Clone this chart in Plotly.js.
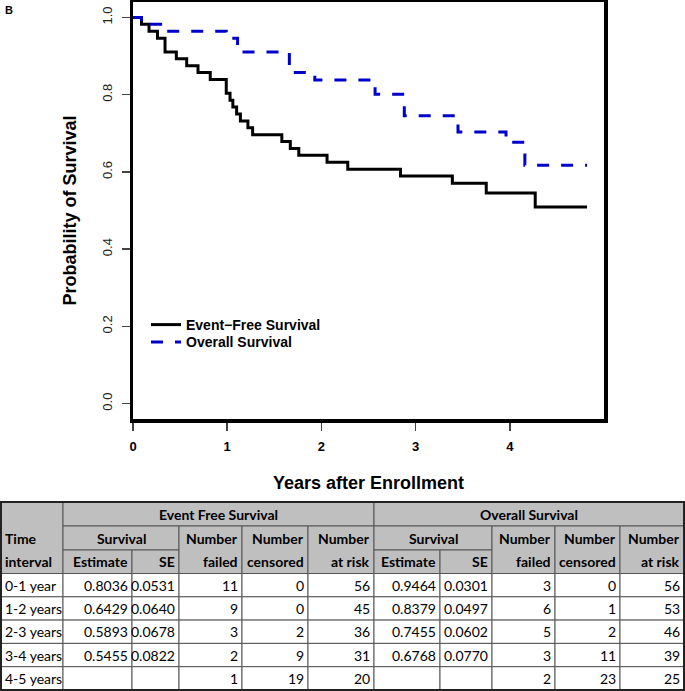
<!DOCTYPE html>
<html>
<head>
<meta charset="utf-8">
<script src="https://cdn.plot.ly/plotly-3.0.1.min.js"></script>
<style>
  html, body { margin: 0; padding: 0; background: #ffffff; }
  #chart { width: 685px; height: 691px; }
</style>
</head>
<body>
<div id="chart"></div>
<script>
// Kaplan-Meier curves
const efsTime = [0, 0.09, 0.17, 0.26, 0.34, 0.46, 0.57, 0.69, 0.82, 0.99, 1.03, 1.06, 1.10, 1.14, 1.22, 1.27, 1.58, 1.67, 1.76, 2.06, 2.28, 2.84, 3.39, 3.75, 4.27, 4.82];
const efsSurv = [1, 0.9821, 0.9643, 0.9464, 0.9107, 0.8929, 0.8750, 0.8571, 0.8393, 0.8036, 0.7857, 0.7679, 0.7500, 0.7321, 0.7143, 0.6964, 0.6786, 0.6607, 0.6429, 0.6250, 0.6071, 0.5893, 0.5703, 0.5455, 0.5091, 0.5091];
const osTime = [0, 0.09, 0.34, 0.99, 1.11, 1.66, 1.93, 2.57, 2.88, 3.45, 3.96, 4.16, 4.82];
const osSurv = [1, 0.9821, 0.9643, 0.9464, 0.9107, 0.8571, 0.8379, 0.8010, 0.7455, 0.7030, 0.6768, 0.6170, 0.6170];

const xTicks = [0, 1, 2, 3, 4];
const yTicks = [0, 0.2, 0.4, 0.6, 0.8, 1.0];

// Table values
const intervals = ['0-1 year', '1-2 years', '2-3 years', '3-4 years', '4-5 years'];
const efsEst = ['0.8036', '0.6429', '0.5893', '0.5455', ''];
const efsSE = ['0.0531', '0.0640', '0.0678', '0.0822', ''];
const efsFailed = [11, 9, 3, 2, 1];
const efsCensored = [0, 0, 2, 9, 19];
const efsAtRisk = [56, 45, 36, 31, 20];
const osEst = ['0.9464', '0.8379', '0.7455', '0.6768', ''];
const osSE = ['0.0301', '0.0497', '0.0602', '0.0770', ''];
const osFailed = [3, 6, 5, 3, 2];
const osCensored = [0, 1, 2, 11, 23];
const osAtRisk = [56, 53, 46, 39, 25];

const W = 685, H = 691;
const fx = (x) => x / W;          // pixel -> paper
const fy = (y) => 1 - y / H;

// table geometry (pixels)
const colEdges = [1, 63, 132, 179, 242, 308, 374, 440, 492, 555, 620, 684];
const headEdges = [502, 526, 550, 573.5];
const rowH = 23.3;
const tFont = 'Lato, "Open Sans", sans-serif';
const rFont = '"Liberation Sans", Arial, sans-serif';

let shapes = [];
let annotations = [];

function cellRect(c0, c1, y0, y1, fill) {
    shapes.push({
        type: 'rect', xref: 'paper', yref: 'paper',
        x0: fx(colEdges[c0]), x1: fx(colEdges[c1]), y0: fy(y0), y1: fy(y1),
        fillcolor: fill, line: { color: '#555555', width: 1 },
    });
}
function cellText(text, c0, c1, yc, align, bold) {
    let x, anchor;
    if (align === 'left') { x = colEdges[c0] + 2; anchor = 'left'; }
    else if (align === 'right') { x = colEdges[c1] - 2; anchor = 'right'; }
    else { x = (colEdges[c0] + colEdges[c1]) / 2; anchor = 'center'; }
    annotations.push({
        xref: 'paper', yref: 'paper', x: fx(x), y: fy(yc),
        xanchor: anchor, yanchor: 'middle', showarrow: false, text: String(text),
        font: { family: tFont, size: 14, color: '#000000', weight: bold ? 'bold' : 'normal' },
    });
}

// header
const hFill = '#bfbfbf';
const r1 = (headEdges[1] + headEdges[2]) / 2;
const r2 = (headEdges[2] + headEdges[3]) / 2;
cellRect(0, 1, headEdges[0], headEdges[3], hFill);
cellText('Time', 0, 1, r1, 'left', true);
cellText('interval', 0, 1, r2, 'left', true);
[['Event Free Survival', 1], ['Overall Survival', 6]].forEach(function (g) {
    const c = g[1];
    cellRect(c, c + 5, headEdges[0], headEdges[1], hFill);
    cellText(g[0], c, c + 5, (headEdges[0] + headEdges[1]) / 2, 'center', true);
    cellRect(c, c + 2, headEdges[1], headEdges[2], hFill);
    cellText('Survival', c, c + 2, r1, 'center', true);
    cellRect(c, c + 1, headEdges[2], headEdges[3], hFill);
    cellText('Estimate', c, c + 1, r2, 'right', true);
    cellRect(c + 1, c + 2, headEdges[2], headEdges[3], hFill);
    cellText('SE', c + 1, c + 2, r2, 'right', true);
    ['failed', 'censored', 'at risk'].forEach(function (lab, k) {
        cellRect(c + 2 + k, c + 3 + k, headEdges[1], headEdges[3], hFill);
        cellText('Number', c + 2 + k, c + 3 + k, r1, 'right', true);
        cellText(lab, c + 2 + k, c + 3 + k, r2, 'right', true);
    });
});

// body
const columns = [intervals, efsEst, efsSE, efsFailed, efsCensored, efsAtRisk,
    osEst, osSE, osFailed, osCensored, osAtRisk];
for (let i = 0; i < intervals.length; ++i) {
    const y0 = headEdges[3] + i * rowH;
    for (let c = 0; c < columns.length; ++c) {
        cellRect(c, c + 1, y0, y0 + rowH, '#ffffff');
        cellText(columns[c][i], c, c + 1, y0 + rowH / 2, c === 0 ? 'left' : 'right', false);
    }
}
// outer border
shapes.push({
    type: 'rect', xref: 'paper', yref: 'paper',
    x0: fx(colEdges[0]), x1: fx(colEdges[colEdges.length - 1]),
    y0: fy(headEdges[0]), y1: fy(headEdges[3] + intervals.length * rowH),
    line: { color: '#222222', width: 2 },
});

// panel letter
annotations.push({
    xref: 'paper', yref: 'paper', x: fx(9), y: fy(10), xanchor: 'center', yanchor: 'middle',
    showarrow: false, text: 'B', font: { family: rFont, size: 11, weight: 'bold', color: '#000' },
});

const data = [{
    x: efsTime, y: efsSurv, mode: 'lines', name: 'Event\u2212Free Survival', legend: 'legend',
    line: { shape: 'hv', color: '#000000', width: 3 },
}, {
    x: osTime, y: osSurv, mode: 'lines', name: 'Overall Survival', legend: 'legend2',
    line: { shape: 'hv', color: '#0000cc', width: 3, dash: '12px,12px' },
}];

const legendFont = { family: rFont, size: 14, weight: 'bold', color: '#000' };

const layout = {
    width: W, height: H,
    margin: { l: 0, r: 0, t: 0, b: 0, pad: 0 },
    paper_bgcolor: '#ffffff',
    plot_bgcolor: '#ffffff',
    showlegend: true,
    legend: {
        x: fx(146), y: fy(309), xanchor: 'left', yanchor: 'top',
        bgcolor: 'rgba(0,0,0,0)', borderwidth: 0, font: legendFont,
    },
    legend2: {
        x: fx(146), y: fy(326.4), xanchor: 'left', yanchor: 'top',
        bgcolor: 'rgba(0,0,0,0)', borderwidth: 0, font: legendFont,
    },
    xaxis: {
        domain: [fx(133), fx(604)],
        range: [0, 5],
        tickvals: xTicks,
        ticks: 'outside', ticklen: 8, tickwidth: 1.5, tickcolor: '#444',
        showline: true, mirror: true, linewidth: 3.5, linecolor: '#000',
        showgrid: false, zeroline: false,
        ticklabelstandoff: 5,
        tickfont: { family: rFont, size: 13, weight: 'bold', color: '#000' },
        title: {
            text: 'Years after Enrollment', standoff: 24,
            font: { family: rFont, size: 18, weight: 'bold', color: '#000' },
        },
    },
    yaxis: {
        domain: [fy(419), fy(2)],
        range: [-0.04, 1.04],
        tickvals: yTicks, tickformat: '.1f', tickangle: -90,
        ticks: 'outside', ticklen: 8, tickwidth: 1.5, tickcolor: '#444',
        showline: true, mirror: true, linewidth: 3.5, linecolor: '#000',
        showgrid: false, zeroline: false,
        ticklabelstandoff: 4,
        tickfont: { family: rFont, size: 13, color: '#222' },
        title: {
            text: 'Probability of Survival', standoff: 20,
            font: { family: rFont, size: 18, weight: 'bold', color: '#000' },
        },
    },
    shapes: shapes,
    annotations: annotations,
};

const config = { staticPlot: true, displayModeBar: false };

Plotly.newPlot('chart', data, layout, config);
</script>
</body>
</html>
